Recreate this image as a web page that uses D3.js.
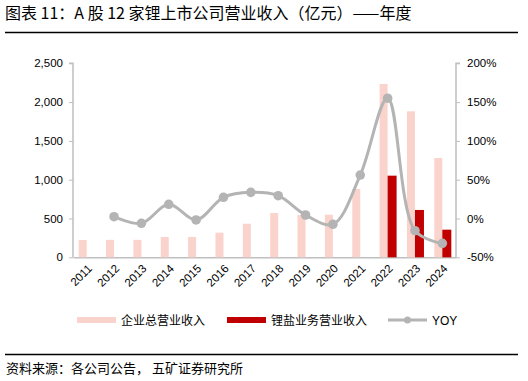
<!DOCTYPE html>
<html><head><meta charset="utf-8">
<script src="https://cdn.jsdelivr.net/npm/d3@7"></script>
<style>
body{margin:0;background:#fff;}
svg{display:block;font-family:"Liberation Sans","Noto Sans CJK SC",sans-serif;}
.cjk{font-family:"Noto Sans CJK SC","Liberation Sans",sans-serif;}
</style></head>
<body><svg id="c" width="528" height="381"></svg>
<script>
const years = ["2011","2012","2013","2014","2015","2016","2017","2018","2019","2020","2021","2022","2023","2024"];
const totalRevenue = [223, 225, 225, 262, 262, 317, 433, 571, 545, 549, 880, 2233, 1881, 1280];
const lithiumSaltRevenue = [null, null, null, null, null, null, null, null, null, null, null, 1052, 610, 356];
const yoy = [null, 2.3, -6.2, 18.3, -1.9, 27.3, 33.7, 29.4, 4.5, -7.5, 56, 155, -15.7, -32];
const leftTicks = [0, 500, 1000, 1500, 2000, 2500];
const rightTicks = [-50, 0, 50, 100, 150, 200];
const seriesNames = ["企业总营业收入", "锂盐业务营业收入", "YOY"];
const title = "图表 11：A 股 12 家锂上市公司营业收入（亿元）——年度";
const source = "资料来源：各公司公告，  五矿证券研究所";

const svg = d3.select("#c");
const L = 73, R = 456, T = 63.3, B = 257.3;
const pink = "#fad3cc", red = "#c00000", grey = "#b4b4b4", axisCol = "#bfbfbf";

const x = d3.scaleBand().domain(years).range([L, R]).paddingInner(0).paddingOuter(0);
const yL = d3.scaleLinear().domain([0, 2500]).range([B, T]);
const yR = d3.scaleLinear().domain([-50, 200]).range([B, T]);

// title
svg.append("text").attr("class","cjk").attr("x",5).attr("y",19).attr("font-size",16).attr("fill","#000").text(title);
svg.append("line").attr("x1",5).attr("x2",518).attr("y1",32.5).attr("y2",32.5).attr("stroke","#000").attr("stroke-width",1.5);
svg.append("line").attr("x1",5).attr("x2",518).attr("y1",354.5).attr("y2",354.5).attr("stroke","#000").attr("stroke-width",1.5);
svg.append("text").attr("class","cjk").attr("x",6).attr("y",373).attr("font-size",13).attr("fill","#000").text(source);

// axes
const gl = svg.append("g").attr("transform",`translate(${L},0)`)
  .call(d3.axisLeft(yL).tickValues(leftTicks).tickSize(4).tickPadding(6).tickFormat(d3.format(",")));
const gr = svg.append("g").attr("transform",`translate(${R},0)`)
  .call(d3.axisRight(yR).tickValues(rightTicks).tickSize(4).tickPadding(7).tickFormat(d=>d+"%"));
[gl,gr].forEach(g=>{
  g.select(".domain").attr("stroke",axisCol).attr("stroke-width",1.5);
  g.selectAll(".tick line").attr("stroke",axisCol);
  g.selectAll("text").attr("font-size",11.5).attr("fill","#000").attr("font-family","Liberation Sans");
});
gl.select(".domain").attr("d",`M-4,${T}H0V${B}`);
gr.select(".domain").attr("d",`M4,${T}H0V${B}`);

const gx = svg.append("g").attr("transform",`translate(0,${B})`)
  .call(d3.axisBottom(x).tickSize(0).tickPadding(0));
gx.select(".domain").attr("stroke",axisCol).attr("stroke-width",1.5);
gx.selectAll("text").attr("font-size",11.5).attr("fill","#000").attr("font-family","Liberation Sans")
  .attr("text-anchor","end").attr("dy",null).attr("y",null)
  .attr("transform","translate(6,12) rotate(-45)");

// bars
const bw = 8;
svg.append("g").selectAll("rect").data(years).join("rect")
  .attr("x",d=>x(d)+x.bandwidth()/2-bw)
  .attr("width",bw)
  .attr("y",(d,i)=>yL(totalRevenue[i]))
  .attr("height",(d,i)=>B-yL(totalRevenue[i]))
  .attr("fill",pink);
svg.append("g").selectAll("rect").data(years.filter((d,i)=>lithiumSaltRevenue[i]!=null)).join("rect")
  .attr("x",d=>x(d)+x.bandwidth()/2)
  .attr("width",bw+1)
  .attr("y",d=>yL(lithiumSaltRevenue[years.indexOf(d)]))
  .attr("height",d=>B-yL(lithiumSaltRevenue[years.indexOf(d)]))
  .attr("fill",red);

// line
const pts = years.map((d,i)=>({d,v:yoy[i]})).filter(p=>p.v!=null);
const line = d3.line().x(p=>x(p.d)+x.bandwidth()/2).y(p=>yR(p.v)).curve(d3.curveCatmullRom.alpha(0.5));
svg.append("path").datum(pts).attr("d",line).attr("fill","none").attr("stroke",grey).attr("stroke-width",3);
svg.append("g").selectAll("circle").data(pts).join("circle")
  .attr("cx",p=>x(p.d)+x.bandwidth()/2).attr("cy",p=>yR(p.v)).attr("r",4.8).attr("fill",grey);

// legend
const ly = 320;
const lg = svg.append("g");
lg.append("rect").attr("x",77).attr("y",ly-3).attr("width",39).attr("height",6).attr("fill",pink);
lg.append("text").attr("class","cjk").attr("x",121).attr("y",ly+4.5).attr("font-size",12).text(seriesNames[0]);
lg.append("rect").attr("x",227).attr("y",ly-3).attr("width",39).attr("height",6).attr("fill",red);
lg.append("text").attr("class","cjk").attr("x",271).attr("y",ly+4.5).attr("font-size",12).text(seriesNames[1]);
lg.append("line").attr("x1",388).attr("x2",427).attr("y1",ly).attr("y2",ly).attr("stroke",grey).attr("stroke-width",3);
lg.append("circle").attr("cx",407.5).attr("cy",ly).attr("r",3.5).attr("fill",grey);
lg.append("text").attr("x",432).attr("y",ly+4.5).attr("font-size",12).attr("font-family","Liberation Sans").text(seriesNames[2]);
</script></body></html>
